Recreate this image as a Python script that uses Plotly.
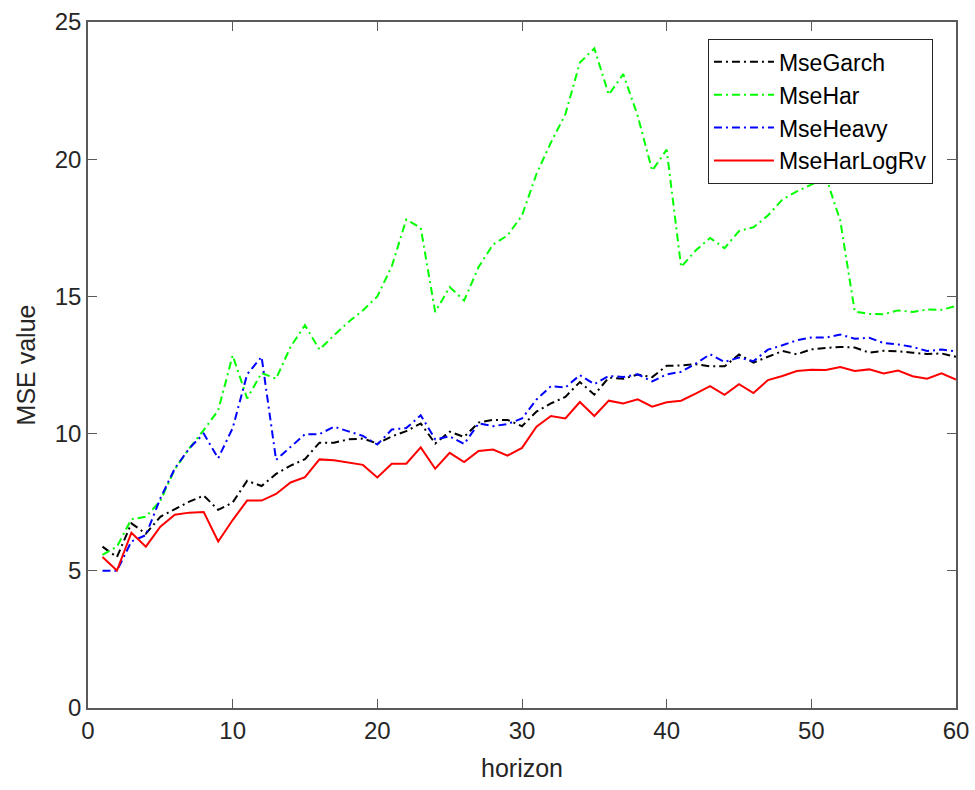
import plotly.graph_objects as go

horizon = list(range(1, 61))

mse_garch = [5.88, 5.5, 6.73, 6.35, 6.97, 7.24, 7.52, 7.74, 7.22, 7.49,
             8.28, 8.09, 8.53, 8.83, 9.07, 9.67, 9.67, 9.79, 9.82, 9.64,
             9.9, 10.09, 10.37, 9.64, 10.07, 9.88, 10.4, 10.5, 10.5, 10.27,
             10.8, 11.1, 11.34, 11.88, 11.42, 12.04, 12.0, 12.15, 12.06, 12.47,
             12.48, 12.53, 12.45, 12.45, 12.88, 12.59, 12.8, 13.01, 12.89, 13.07,
             13.12, 13.16, 13.14, 12.95, 13.02, 13.0, 12.95, 12.9, 12.92, 12.8]

mse_har = [5.58, 5.88, 6.88, 6.97, 7.55, 8.7, 9.46, 10.13, 10.85, 12.85,
           11.28, 12.21, 12.0, 13.16, 13.95, 13.06, 13.58, 14.07, 14.49, 15.0,
           16.1, 17.8, 17.5, 14.43, 15.34, 14.85, 16.07, 16.89, 17.22, 17.95,
           19.46, 20.61, 21.64, 23.52, 24.04, 22.35, 23.1, 21.58, 19.58, 20.35,
           16.07, 16.67, 17.13, 16.76, 17.38, 17.52, 17.95, 18.53, 18.83, 19.07,
           19.36, 17.76, 14.45, 14.36, 14.35, 14.49, 14.43, 14.52, 14.51, 14.65]

mse_heavy = [5.0, 5.0, 6.07, 6.3, 7.64, 8.73, 9.46, 10.0, 9.1, 10.2,
             12.16, 12.8, 9.04, 9.52, 9.98, 9.98, 10.25, 10.08, 9.92, 9.6,
             10.15, 10.2, 10.67, 9.79, 9.9, 9.62, 10.37, 10.27, 10.35, 10.55,
             11.24, 11.73, 11.68, 12.13, 11.8, 12.1, 12.06, 12.16, 11.9, 12.16,
             12.25, 12.55, 12.89, 12.61, 12.77, 12.64, 13.06, 13.22, 13.4, 13.5,
             13.5, 13.61, 13.46, 13.49, 13.3, 13.25, 13.16, 13.01, 13.06, 13.0]

mse_harlogrv = [5.5, 5.01, 6.39, 5.88, 6.61, 7.04, 7.12, 7.14, 6.07, 6.85,
                7.56, 7.56, 7.8, 8.22, 8.41, 9.06, 9.03, 8.95, 8.86, 8.4,
                8.9, 8.9, 9.5, 8.72, 9.3, 8.96, 9.37, 9.42, 9.2, 9.48,
                10.25, 10.64, 10.55, 11.15, 10.64, 11.2, 11.1, 11.25, 10.98, 11.14,
                11.2, 11.46, 11.73, 11.41, 11.8, 11.48, 11.95, 12.1, 12.28, 12.33,
                12.32, 12.43, 12.28, 12.34, 12.19, 12.3, 12.09, 12.0, 12.2, 11.97]

x_ticks = [0, 10, 20, 30, 40, 50, 60]
y_ticks = [0, 5, 10, 15, 20, 25]

FONT = "Liberation Sans, Arial, sans-serif"
dashdot = "8px,4px,2px,4px"
series = [
    ("MseGarch", mse_garch, "#000000", dashdot),
    ("MseHar", mse_har, "#00FF00", dashdot),
    ("MseHeavy", mse_heavy, "#0000FF", dashdot),
    ("MseHarLogRv", mse_harlogrv, "#FF0000", "solid"),
]

fig = go.Figure()
for name, vals, color, dash in series:
    fig.add_trace(go.Scatter(x=horizon, y=vals, mode="lines", name=name,
                             line=dict(color=color, width=2, dash=dash)))

axis_common = dict(showline=True, mirror="ticks", linecolor="#5a5a5a", linewidth=1.5,
                   ticks="inside", ticklen=9, tickwidth=1.3, tickcolor="#5a5a5a",
                   showgrid=False, zeroline=False, automargin=False,
                   tickfont=dict(family=FONT, size=24, color="#262626"))

fig.update_layout(
    width=975, height=790,
    margin=dict(l=88, r=19, t=22, b=82),
    plot_bgcolor="white", paper_bgcolor="white",
    showlegend=True,
    legend=dict(x=0.714, y=0.975, xanchor="left", yanchor="top",
                bgcolor="white", bordercolor="#262626", borderwidth=1.2,
                font=dict(family=FONT, size=23, color="#000000"),
                tracegroupgap=0, itemwidth=60),
    xaxis=dict(range=[0, 60], tickvals=x_ticks,
               title=dict(text="horizon", font=dict(family=FONT, size=25, color="#262626"), standoff=17),
               **axis_common),
    yaxis=dict(range=[0, 25], tickvals=y_ticks,
               title=dict(text="MSE value", font=dict(family=FONT, size=25, color="#262626"), standoff=12),
               **axis_common),
)

fig.write_html("out.html",
               config={"displayModeBar": False},
               post_script="document.body.style.margin='0';document.body.style.overflow='hidden';")
